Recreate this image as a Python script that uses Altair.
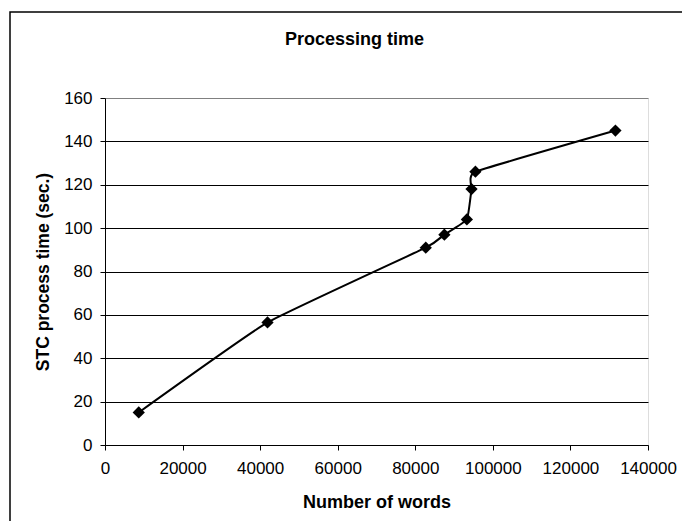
import altair as alt
import pandas as pd

words = [8700, 41900, 82700, 87500, 93300, 94500, 95500, 131600]
seconds = [15, 56.5, 91, 97, 104, 118, 126, 145]
x_ticks = [0, 20000, 40000, 60000, 80000, 100000, 120000, 140000]
y_ticks = [0, 20, 40, 60, 80, 100, 120, 140, 160]

df = pd.DataFrame({"words": words, "seconds": seconds})
frame_df = pd.DataFrame({"f": [0]})

FONT = "Liberation Sans"

x_enc = alt.X(
    "words:Q",
    scale=alt.Scale(domain=[0, 140000], nice=False),
    axis=alt.Axis(
        values=x_ticks, format="d", title="Number of words", grid=False,
        domainColor="black", tickColor="black", tickSize=5, labelPadding=10,
        labelFontSize=17, labelColor="black", labelFont=FONT,
        titleFont=FONT, titleFontSize=18, titleFontWeight="bold", titleColor="black",
        titleY=57, titleBaseline="middle", labelFlush=False,
    ),
)
y_enc = alt.Y(
    "seconds:Q",
    scale=alt.Scale(domain=[0, 160], nice=False),
    axis=alt.Axis(
        values=y_ticks, title="STC process time (sec.)",
        grid=True,
        gridColor={"condition": {"test": "datum.value === 160 || datum.value === 0", "value": "#808080"}, "value": "black"},
        gridWidth=1,
        domainColor="black", tickColor="black", tickSize=5, labelPadding=8,
        labelFontSize=17, labelColor="black", labelFont=FONT,
        titleFont=FONT, titleFontSize=17.5, titleFontWeight="bold", titleColor="black",
        titleX=-62, titleY=173.5, titleAngle=270, titleBaseline="middle", titleAlign="center",
        labelFlush=False,
    ),
)

base = alt.Chart(df)
line = base.mark_line(color="black", strokeWidth=2, interpolate="cardinal", tension=0.65).encode(x=x_enc, y=y_enc)
pts = base.mark_point(shape="diamond", filled=True, color="black", size=150, opacity=1).encode(x="words:Q", y="seconds:Q")

frame = alt.Chart(frame_df).mark_rect(fill=None, stroke="black", strokeWidth=1.5).encode(
    x=alt.value(-95), x2=alt.value(620), y=alt.value(-86), y2=alt.value(470)
)

chart = alt.layer(frame, line, pts).properties(
    width=543, height=347,
    title=alt.TitleParams("Processing time", font=FONT, fontSize=18, fontWeight="bold",
                          color="black", anchor="middle", dx=-22, offset=0, dy=47, baseline="middle"),
    padding={"left": 97, "top": 90, "right": 34, "bottom": 76},
    autosize=alt.AutoSizeParams(type="none"),
).configure_view(fill="#eeeeee", stroke="#808080", strokeWidth=1.5).configure(background="white")

chart.save("out.html", embed_options={"renderer": "svg", "actions": False})
